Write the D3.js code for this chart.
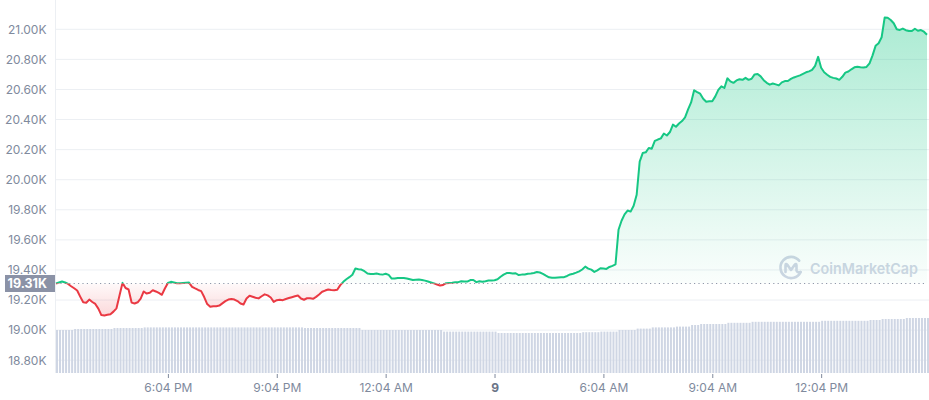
<!DOCTYPE html>
<html>
<head>
<meta charset="utf-8">
<script src="https://cdn.jsdelivr.net/npm/d3@7"></script>
<style>
  html, body { margin: 0; padding: 0; background: #fff; }
  svg { display: block; font-family: Inter, "Noto Sans", sans-serif; }
</style>
</head>
<body>
<svg id="chart" width="929" height="400"></svg>
<script>
// BTC price, USD, one value every 5 minutes
const prices = [
  19310, 19317, 19323, 19317, 19307, 19292, 19278, 19263, 19223, 19185, 19182, 19203,
  19187, 19174, 19143, 19100, 19097, 19102, 19106, 19123, 19145, 19230, 19314, 19280,
  19270, 19183, 19177, 19185, 19210, 19257, 19243, 19248, 19265, 19257, 19247, 19235,
  19277, 19313, 19321, 19317, 19312, 19312, 19314, 19315, 19316, 19288, 19277, 19267,
  19259, 19220, 19173, 19155, 19159, 19159, 19163, 19178, 19193, 19203, 19207, 19203,
  19193, 19177, 19170, 19210, 19228, 19222, 19215, 19211, 19225, 19238, 19231, 19217,
  19188, 19199, 19202, 19199, 19207, 19213, 19219, 19225, 19230, 19210, 19202, 19212,
  19212, 19208, 19221, 19237, 19255, 19263, 19270, 19267, 19265, 19268, 19299, 19321,
  19338, 19352, 19368, 19410, 19405, 19403, 19392, 19376, 19373, 19373, 19376, 19372,
  19369, 19375, 19367, 19343, 19343, 19346, 19347, 19347, 19343, 19338, 19333, 19335,
  19336, 19333, 19329, 19323, 19317, 19311, 19303, 19296, 19300, 19312, 19314, 19315,
  19318, 19319, 19325, 19323, 19323, 19333, 19333, 19319, 19325, 19322, 19325, 19330,
  19330, 19332, 19338, 19355, 19369, 19379, 19379, 19376, 19378, 19366, 19369, 19370,
  19375, 19377, 19380, 19386, 19383, 19374, 19362, 19351, 19348, 19348, 19350, 19352,
  19352, 19360, 19370, 19375, 19382, 19391, 19403, 19422, 19409, 19402, 19387, 19397,
  19411, 19409, 19407, 19420, 19427, 19437, 19667, 19727, 19770, 19795, 19788, 19827,
  19900, 20120, 20177, 20182, 20211, 20206, 20258, 20267, 20275, 20307, 20294, 20317,
  20366, 20352, 20374, 20390, 20414, 20467, 20514, 20595, 20582, 20572, 20538, 20518,
  20522, 20521, 20554, 20597, 20621, 20610, 20674, 20654, 20644, 20660, 20668, 20664,
  20677, 20664, 20671, 20700, 20703, 20687, 20662, 20644, 20632, 20640, 20634, 20627,
  20647, 20656, 20656, 20670, 20680, 20687, 20694, 20704, 20714, 20720, 20730, 20757,
  20817, 20744, 20714, 20698, 20684, 20677, 20673, 20664, 20684, 20712, 20719, 20734,
  20747, 20751, 20748, 20746, 20750, 20774, 20827, 20890, 20907, 20947, 21078, 21077,
  21062, 21040, 21000, 20996, 21005, 20994, 20989, 20989, 21004, 20990, 20995, 20984,
  20964
];

// 24h volume, billions USD, same steps
const volumes = [
  21.5, 21.5, 21.5, 21.5, 21.5, 21.5, 22.0, 22.0, 22.0, 22.0, 22.0, 22.0,
  22.0, 22.0, 22.0, 22.0, 22.0, 22.0, 22.0, 22.5, 22.5, 22.5, 22.5, 22.5,
  22.5, 22.5, 22.5, 22.5, 22.5, 22.8, 22.8, 22.8, 22.8, 22.8, 22.8, 22.8,
  22.8, 22.8, 22.8, 22.8, 22.8, 22.8, 22.8, 22.8, 22.8, 22.8, 22.8, 22.8,
  22.8, 22.8, 22.8, 22.8, 22.8, 22.8, 22.8, 22.8, 22.8, 22.8, 22.8, 22.8,
  22.8, 22.8, 22.8, 22.8, 22.8, 22.8, 22.8, 22.8, 22.8, 22.8, 22.8, 22.8,
  22.8, 22.8, 22.8, 22.8, 22.8, 22.8, 22.8, 22.8, 22.8, 22.8, 22.5, 22.5,
  22.5, 22.5, 22.5, 22.5, 22.5, 22.5, 22.5, 22.5, 22.5, 22.5, 22.5, 22.5,
  22.5, 22.5, 22.5, 22.5, 22.5, 21.5, 21.5, 21.5, 21.5, 21.5, 21.5, 21.5,
  21.5, 21.5, 21.5, 21.5, 21.5, 21.5, 21.5, 21.5, 21.5, 21.5, 21.5, 21.5,
  21.5, 21.5, 21.5, 21.5, 21.5, 21.5, 21.5, 21.5, 20.7, 20.7, 20.7, 20.7,
  20.7, 20.7, 20.7, 20.7, 20.7, 20.7, 20.7, 20.7, 20.7, 20.7, 20.7, 20.7,
  20.7, 20.7, 20.0, 20.0, 20.0, 20.0, 20.0, 20.0, 20.0, 20.0, 20.0, 20.0,
  20.0, 20.0, 20.0, 20.0, 20.0, 20.0, 20.0, 20.0, 20.0, 20.0, 20.0, 20.0,
  20.0, 20.0, 20.0, 20.0, 20.0, 20.0, 20.4, 20.4, 20.4, 20.4, 20.4, 20.4,
  20.7, 20.7, 20.7, 20.7, 20.7, 20.7, 21.5, 21.5, 21.5, 21.5, 21.5, 21.5,
  22.2, 22.2, 22.2, 22.2, 22.2, 22.8, 22.8, 22.8, 22.8, 22.8, 22.8, 22.8,
  22.8, 23.2, 23.2, 23.2, 23.2, 23.2, 24.0, 24.0, 24.0, 24.5, 24.5, 24.5,
  24.5, 24.5, 24.5, 24.5, 24.5, 24.5, 25.1, 25.1, 25.1, 25.1, 25.1, 25.1,
  25.1, 25.1, 25.6, 25.6, 25.6, 25.6, 25.6, 25.6, 25.6, 25.6, 25.6, 25.6,
  25.6, 25.6, 25.6, 25.6, 25.6, 25.6, 25.6, 25.6, 25.6, 25.6, 25.6, 25.6,
  25.6, 26.1, 26.1, 26.1, 26.1, 26.1, 26.1, 26.1, 26.1, 26.1, 26.1, 26.1,
  26.1, 26.1, 26.1, 26.1, 26.1, 26.5, 26.5, 26.5, 26.5, 27.0, 27.0, 27.0,
  27.0, 27.0, 27.0, 27.0, 27.0, 27.5, 27.5, 27.5, 27.5, 27.5, 27.5, 27.5,
  27.5
];

const startTime = "2022-09-08 14:59";
const stepMinutes = 5;

const yTicks = [18800, 19000, 19200, 19400, 19600, 19800, 20000, 20200, 20400, 20600, 20800, 21000];
const xTickTimes = ["2022-09-08 18:04", "2022-09-08 21:04", "2022-09-09 00:04", "2022-09-09 03:04",
  "2022-09-09 06:04", "2022-09-09 09:04", "2022-09-09 12:04"];
const xTickLabels = ["6:04 PM", "9:04 PM", "12:04 AM", "9", "6:04 AM", "9:04 AM", "12:04 PM"];

const GREEN = "#16c784";
const RED = "#ea3943";

const parse = d3.timeParse("%Y-%m-%d %H:%M");
const t0 = parse(startTime);
const data = prices.map((p, i) => ({
  time: d3.timeMinute.offset(t0, i * stepMinutes),
  price: p,
  volume: volumes[i]
}));
const base = prices[0];

const svg = d3.select("#chart");
const left = 56, right = 927, bottom = 373;

const x = d3.scaleTime().domain(d3.extent(data, d => d.time)).range([left, right]);
const y = d3.scaleLinear().domain([18800, 21000]).range([360.2, 29.3]);
const yVol = d3.scaleLinear().domain([0, 50]).range([bottom, bottom - 100]);
const baseY = y(base);
const fmtK = v => (v / 1000).toFixed(2) + "K";

/* ---- defs ---- */
const defs = svg.append("defs");

const gUp = defs.append("linearGradient").attr("id", "fillUp")
  .attr("gradientUnits", "userSpaceOnUse")
  .attr("x1", 0).attr("x2", 0).attr("y1", y(21080)).attr("y2", baseY);
gUp.append("stop").attr("offset", 0).attr("stop-color", GREEN).attr("stop-opacity", 0.36);
gUp.append("stop").attr("offset", 1).attr("stop-color", GREEN).attr("stop-opacity", 0.02);

const gDown = defs.append("linearGradient").attr("id", "fillDown")
  .attr("gradientUnits", "userSpaceOnUse")
  .attr("x1", 0).attr("x2", 0).attr("y1", baseY).attr("y2", y(19090));
gDown.append("stop").attr("offset", 0).attr("stop-color", RED).attr("stop-opacity", 0.03);
gDown.append("stop").attr("offset", 1).attr("stop-color", RED).attr("stop-opacity", 0.2);

defs.append("clipPath").attr("id", "above").append("rect")
  .attr("x", 0).attr("y", 0).attr("width", 929).attr("height", baseY);
defs.append("clipPath").attr("id", "below").append("rect")
  .attr("x", 0).attr("y", baseY).attr("width", 929).attr("height", bottom - baseY);

/* ---- grid ---- */
svg.append("g").selectAll("line").data(yTicks).enter().append("line")
  .attr("x1", left).attr("x2", 929)
  .attr("y1", d => y(d)).attr("y2", d => y(d))
  .attr("stroke", "#eceff3").attr("stroke-width", 1);

svg.append("line")
  .attr("x1", left - 0.5).attr("x2", left - 0.5).attr("y1", 0).attr("y2", bottom)
  .attr("stroke", "#eceff3");

/* ---- volume ---- */
svg.append("g").selectAll("rect").data(data).enter().append("rect")
  .attr("x", d => x(d.time))
  .attr("y", d => yVol(d.volume))
  .attr("width", 2)
  .attr("height", d => bottom - yVol(d.volume))
  .attr("fill", "#cfd6e4");

/* ---- watermark ---- */
const wm = svg.append("g").attr("transform", "translate(791,267.5)");
wm.append("path")
  .attr("d", "M8.2,-6.8 A10.6,10.6 0 1 0 9.6,4.6")
  .attr("fill", "none").attr("stroke", "#cfd6e4").attr("stroke-width", 2.6)
  .attr("stroke-linecap", "round");
wm.append("path")
  .attr("d", "M-5.5,4.5 L-5.5,-2 Q-5.5,-4.5 -3.5,-2.5 L0,2.5 L3.5,-2.5 Q5.5,-4.5 5.5,-2 L5.5,3 Q6,5.5 9.6,4.6")
  .attr("fill", "none").attr("stroke", "#cfd6e4").attr("stroke-width", 2.6)
  .attr("stroke-linecap", "round").attr("stroke-linejoin", "round");
svg.append("text")
  .attr("x", 810).attr("y", 273.5)
  .attr("font-size", 15).attr("font-weight", 600)
  .attr("textLength", 108).attr("lengthAdjust", "spacingAndGlyphs")
  .attr("fill", "#cfd6e4")
  .text("CoinMarketCap");

/* ---- price area + line ---- */
const area = d3.area().x(d => x(d.time)).y0(baseY).y1(d => y(d.price));
const line = d3.line().x(d => x(d.time)).y(d => y(d.price));

svg.append("path").datum(data).attr("d", area)
  .attr("fill", "url(#fillUp)").attr("clip-path", "url(#above)");
svg.append("path").datum(data).attr("d", area)
  .attr("fill", "url(#fillDown)").attr("clip-path", "url(#below)");

svg.append("line")
  .attr("x1", left).attr("x2", right).attr("y1", baseY).attr("y2", baseY)
  .attr("stroke", "#8f98aa").attr("stroke-width", 1.2)
  .attr("stroke-dasharray", "1.2 3.2");

svg.append("path").datum(data).attr("d", line)
  .attr("fill", "none").attr("stroke", GREEN).attr("stroke-width", 2)
  .attr("stroke-linejoin", "round").attr("clip-path", "url(#above)");
svg.append("path").datum(data).attr("d", line)
  .attr("fill", "none").attr("stroke", RED).attr("stroke-width", 2)
  .attr("stroke-linejoin", "round").attr("clip-path", "url(#below)");

/* ---- axes ---- */
const yAxis = svg.append("g").attr("transform", "translate(46.5,0)")
  .call(d3.axisLeft(y).tickValues(yTicks).tickFormat(fmtK).tickSize(0).tickPadding(0));
yAxis.select(".domain").remove();
yAxis.selectAll("text").attr("font-size", 12).attr("fill", "#808a9d")
  .attr("font-family", "Inter, sans-serif");

const xAxis = svg.append("g").attr("transform", `translate(0,${bottom + 1})`)
  .call(d3.axisBottom(x).tickValues(xTickTimes.map(parse))
    .tickFormat((d, i) => xTickLabels[i]).tickSize(4).tickPadding(5));
xAxis.select(".domain").remove();
xAxis.selectAll("line").attr("stroke", "#808a9d");
xAxis.selectAll("text").attr("font-size", 12)
  .attr("font-family", "Inter, sans-serif")
  .attr("font-weight", (d, i) => xTickLabels[i] === "9" ? 700 : 400)
  .attr("fill", (d, i) => xTickLabels[i] === "9" ? "#6b7487" : "#808a9d");

/* ---- base label ---- */
svg.append("rect")
  .attr("x", 5).attr("y", baseY - 8.5).attr("width", 50).attr("height", 17)
  .attr("fill", "#8b92a6");
svg.append("text")
  .attr("x", 47).attr("y", baseY).attr("dy", "0.35em")
  .attr("text-anchor", "end")
  .attr("font-size", 12.5).attr("font-weight", 700).attr("fill", "#fff")
  .text(fmtK(base));
</script>
</body>
</html>
